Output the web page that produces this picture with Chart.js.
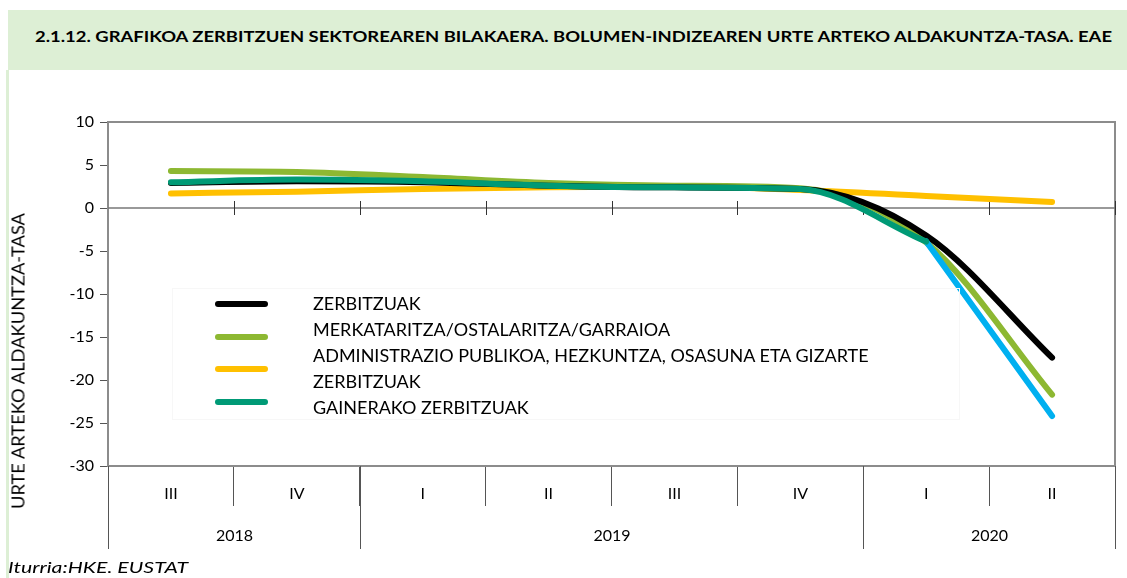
<!DOCTYPE html>
<html>
<head>
<meta charset="utf-8">
<script src="https://cdn.jsdelivr.net/npm/chart.js@4.4.1/dist/chart.umd.min.js"></script>
<style>
  body { margin: 0; width: 1127px; height: 578px; position: relative; overflow: hidden; background: #fff; font-family: Lato, sans-serif; }
  #head { position: absolute; left: 8px; top: 10px; width: 1119px; height: 60px; background: #ddefd5; }
  #head span { position: absolute; left: 27px; top: 17px; font-weight: bold; font-size: 15px; color: #000; white-space: nowrap; transform-origin: left center; }
  #side { position: absolute; left: 6px; top: 70px; width: 3px; height: 508px; background: #ddefd5; }
  #chart { position: absolute; left: 0; top: 0; }
  #ytitle { position: absolute; left: 18px; top: 361px; white-space: nowrap; font-size: 17px; color: #000; }
  #source { position: absolute; left: 8px; top: 558px; font-style: italic; font-size: 15px; color: #000; white-space: nowrap; transform-origin: left center; }
  #legend { position: absolute; left: 172px; top: 288px; width: 786px; height: 130px; border: 1px solid #f7f7f7; }
  .sample { position: absolute; left: 42px; width: 53px; height: 6px; border-radius: 3px; }
  #legtext { position: absolute; left: 140px; top: 1px; width: 620px; font-size: 18px; line-height: 26px; color: #000; }
</style>
</head>
<body>
<div id="head"><span id="title">2.1.12. GRAFIKOA ZERBITZUEN SEKTOREAREN BILAKAERA. BOLUMEN-INDIZEAREN URTE ARTEKO ALDAKUNTZA-TASA. EAE</span></div>
<div id="side"></div>
<canvas id="chart" width="1127" height="578"></canvas>
<div id="ytitle">URTE ARTEKO ALDAKUNTZA-TASA</div>
<div id="legend"><div id="legtext"></div></div>
<div id="source">Iturria:HKE. EUSTAT</div>
<script>
// Datuak
const quarters = ['III', 'IV', 'I', 'II', 'III', 'IV', 'I', 'II'];
const years = ['2018', '2019', '2020'];
const yearSpans = [2, 4, 2];

const zerbitzuak = [2.9, 3.1, 3.0, 2.6, 2.4, 2.2, -3.2, -17.4];
const merkataritza = [4.3, 4.2, 3.6, 2.9, 2.6, 2.3, -4.0, -21.7];
const administrazioa = [1.7, 1.9, 2.2, 2.4, 2.5, 2.1, 1.4, 0.7];
const gainerakoak = [3.0, 3.3, 3.1, 2.6, 2.4, 2.2, -3.9, null];
const gainerakoakAzkena = [null, null, null, null, null, null, -3.9, -24.2];

const font = 'Lato';

function series(label, data, color, order, legend) {
  return {
    label: label,
    data: data,
    borderColor: color,
    backgroundColor: color,
    borderWidth: 6,
    borderCapStyle: 'round',
    borderJoinStyle: 'round',
    pointRadius: 0,
    cubicInterpolationMode: 'monotone',
    spanGaps: false,
    order: order,
    inLegend: legend
  };
}

const datasets = [
  series('ZERBITZUAK', zerbitzuak, '#000000', 1, true),
  series('MERKATARITZA/OSTALARITZA/GARRAIOA', merkataritza, '#8db832', 2, true),
  series('ADMINISTRAZIO PUBLIKOA, HEZKUNTZA, OSASUNA ETA GIZARTE ZERBITZUAK', administrazioa, '#ffc000', 3, true),
  series('GAINERAKO ZERBITZUAK', gainerakoak, '#009a76', 0, true),
  series('', gainerakoakAzkena, '#00b0f0', 0, false)
];
datasets[4].cubicInterpolationMode = 'default';
datasets[4].tension = 0;

// stretch a text to the width it has in the picture
function fitWidth(el, target, rotate) {
  const w = el.getBoundingClientRect().width;
  const k = target / w;
  if (rotate) {
    el.style.transform = 'translate(-50%, -50%) rotate(-90deg) scaleX(' + k + ')';
  } else {
    el.style.transform = 'scaleX(' + k + ')';
  }
}
fitWidth(document.getElementById('title'), 1077);
fitWidth(document.getElementById('source'), 180);
fitWidth(document.getElementById('ytitle'), 296, true);

// Custom legend (Excel style)
const legText = document.getElementById('legtext');
const legBox = document.getElementById('legend');
datasets.filter(d => d.inLegend).forEach((d, i) => {
  const t = document.createElement('div');
  t.textContent = d.label;
  legText.appendChild(t);
  const s = document.createElement('div');
  s.className = 'sample';
  s.style.top = (12 + i * 32.5) + 'px';
  s.style.background = d.borderColor;
  legBox.appendChild(s);
});

// Axis decorations: frame, zero line, year grouping
const decor = {
  id: 'decor',
  beforeDatasetsDraw(chart) {
    const { ctx, chartArea: a, scales: { x, y } } = chart;
    ctx.save();
    ctx.strokeStyle = '#8c8c8c';
    ctx.lineWidth = 2;
    ctx.beginPath();
    ctx.moveTo(a.left, a.top);
    ctx.lineTo(a.right, a.top);
    ctx.lineTo(a.right, a.bottom);
    ctx.stroke();

    const y0 = y.getPixelForValue(0);
    const step = x.getPixelForValue(1) - x.getPixelForValue(0);
    ctx.strokeStyle = '#777';
    ctx.lineWidth = 1.5;
    ctx.beginPath();
    ctx.moveTo(a.left, y0);
    ctx.lineTo(a.right, y0);
    ctx.stroke();
    ctx.strokeStyle = '#333';
    ctx.lineWidth = 1;
    for (let i = 1; i <= quarters.length; i++) {
      const bx = Math.round(x.getPixelForValue(i) - step / 2) + 0.5;
      ctx.beginPath();
      ctx.moveTo(bx, y0 - 7);
      ctx.lineTo(bx, y0 + 7);
      ctx.stroke();
    }
    ctx.restore();
  },
  afterDraw(chart) {
    const { ctx, chartArea: a, scales: { x } } = chart;
    const step = x.getPixelForValue(1) - x.getPixelForValue(0);
    const bound = i => Math.round(x.getPixelForValue(i) - step / 2) + 0.5;
    ctx.save();
    ctx.strokeStyle = '#555';
    ctx.lineWidth = 1;
    ctx.fillStyle = '#000';
    ctx.font = '16px ' + font;
    ctx.textAlign = 'center';
    ctx.textBaseline = 'middle';
    let start = 0;
    years.forEach((yr, k) => {
      const x0 = bound(start);
      const x1 = bound(start + yearSpans[k]);
      ctx.beginPath();
      ctx.moveTo(x0, a.bottom);
      ctx.lineTo(x0, a.bottom + 83);
      ctx.stroke();
      if (k === years.length - 1) {
        ctx.beginPath();
        ctx.moveTo(x1, a.bottom);
        ctx.lineTo(x1, a.bottom + 83);
        ctx.stroke();
      }
      ctx.fillText(yr, (x0 + x1) / 2, a.bottom + 70);
      start += yearSpans[k];
    });
    ctx.restore();
  }
};

new Chart(document.getElementById('chart'), {
  type: 'line',
  data: { labels: quarters, datasets: datasets },
  options: {
    responsive: false,
    animation: false,
    layout: { padding: { left: 40, right: 12, top: 122, bottom: 0 } },
    plugins: { legend: { display: false }, tooltip: { enabled: false } },
    scales: {
      x: {
        offset: true,
        grid: { offset: true, drawOnChartArea: false, tickLength: 40, color: '#555', lineWidth: 1 },
        border: { color: '#8c8c8c', width: 2 },
        ticks: { padding: -22, color: '#000', font: { family: font, size: 16 }, maxRotation: 0 },
        afterFit: s => { s.height = 112; }
      },
      y: {
        min: -30,
        max: 10,
        ticks: { stepSize: 5, color: '#000', font: { family: font, size: 16 }, padding: 6 },
        grid: { drawOnChartArea: false, tickLength: 8, color: '#555', lineWidth: 1 },
        border: { color: '#8c8c8c', width: 2 },
        afterFit: s => { s.width = 68; }
      }
    }
  },
  plugins: [decor]
});
</script>
</body>
</html>
